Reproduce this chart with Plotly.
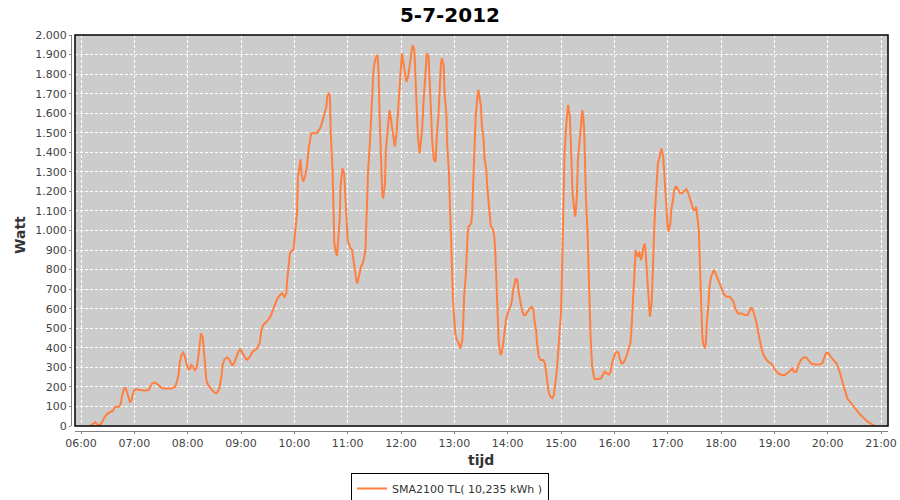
import plotly.graph_objects as go

datum = "2012-07-05"
titel = "5-7-2012"
serie_naam = "SMA2100 TL( 10,235 kWh )"

tijd = [
    "06:10", "06:14", "06:16", "06:18", "06:21", "06:23", "06:25", "06:27", "06:30", "06:33",
    "06:36", "06:38", "06:41", "06:43", "06:45", "06:46", "06:48", "06:50", "06:51", "06:53",
    "06:55", "06:57", "06:58", "07:00", "07:02", "07:06", "07:12", "07:16", "07:18", "07:20",
    "07:23", "07:26", "07:29", "07:32", "07:36", "07:42", "07:46", "07:48", "07:50", "07:51",
    "07:53", "07:55", "07:57", "07:59", "08:01", "08:03", "08:04", "08:06", "08:08", "08:10",
    "08:12", "08:14", "08:15", "08:17", "08:18", "08:20", "08:21", "08:23", "08:25", "08:27",
    "08:29", "08:32", "08:34", "08:36", "08:38", "08:39", "08:41", "08:44", "08:46", "08:48",
    "08:50", "08:51", "08:53", "08:55", "08:57", "08:59", "09:01", "09:03", "09:05", "09:07",
    "09:10", "09:13", "09:16", "09:18", "09:21", "09:23", "09:25", "09:29", "09:33", "09:35",
    "09:38", "09:41", "09:44", "09:46", "09:49", "09:51", "09:52", "09:54", "09:55", "09:57",
    "09:59", "10:00", "10:01", "10:03", "10:04", "10:06", "10:07", "10:08", "10:10", "10:12",
    "10:14", "10:16", "10:18", "10:19", "10:25", "10:29", "10:31", "10:33", "10:36", "10:37",
    "10:39", "10:40", "10:41", "10:43", "10:44", "10:45", "10:47", "10:48", "10:49", "10:51",
    "10:52", "10:54", "10:56", "10:57", "10:59", "11:00", "11:03", "11:05", "11:06", "11:08",
    "11:10", "11:11", "11:13", "11:15", "11:17", "11:18", "11:20", "11:21", "11:23", "11:25",
    "11:27", "11:29", "11:31", "11:33", "11:34", "11:35", "11:36", "11:38", "11:39", "11:40",
    "11:42", "11:43", "11:45", "11:47", "11:48", "11:50", "11:52", "11:53", "11:55", "11:57",
    "11:58", "12:00", "12:01", "12:03", "12:05", "12:06", "12:08", "12:10", "12:12", "12:13",
    "12:15", "12:16", "12:18", "12:19", "12:21", "12:22", "12:24", "12:25", "12:27", "12:29",
    "12:31", "12:33", "12:34", "12:35", "12:37", "12:39", "12:40", "12:42", "12:43", "12:45",
    "12:46", "12:48", "12:49", "12:51", "12:52", "12:54", "12:55", "12:56", "12:57", "12:58",
    "12:59", "13:00", "13:01", "13:03", "13:05", "13:07", "13:09", "13:10", "13:11", "13:13",
    "13:14", "13:15", "13:16", "13:19", "13:20", "13:21", "13:22", "13:23", "13:24", "13:26",
    "13:27", "13:28", "13:30", "13:31", "13:33", "13:34", "13:36", "13:37", "13:39", "13:40",
    "13:41", "13:43", "13:45", "13:46", "13:47", "13:48", "13:49", "13:50", "13:52", "13:53",
    "13:55", "13:56", "13:58", "14:00", "14:01", "14:03", "14:05", "14:06", "14:08", "14:09",
    "14:11", "14:12", "14:14", "14:16", "14:18", "14:20", "14:21", "14:23", "14:25", "14:27",
    "14:29", "14:30", "14:32", "14:33", "14:35", "14:37", "14:40", "14:42", "14:43", "14:45",
    "14:46", "14:48", "14:50", "14:52", "14:53", "14:55", "14:57", "14:58", "15:00", "15:01",
    "15:02", "15:03", "15:04", "15:06", "15:07", "15:08", "15:10", "15:11", "15:12", "15:13",
    "15:15", "15:16", "15:17", "15:18", "15:19", "15:21", "15:23", "15:24", "15:25", "15:26",
    "15:27", "15:28", "15:30", "15:31", "15:32", "15:33", "15:34", "15:35", "15:37", "15:38",
    "15:42", "15:45", "15:47", "15:49", "15:51", "15:54", "15:56", "15:57", "15:59", "16:01",
    "16:03", "16:05", "16:06", "16:08", "16:10", "16:12", "16:14", "16:16", "16:18", "16:19",
    "16:20", "16:21", "16:22", "16:23", "16:24", "16:25", "16:27", "16:28", "16:29", "16:30",
    "16:31", "16:32", "16:34", "16:35", "16:36", "16:37", "16:38", "16:39", "16:40", "16:42",
    "16:43", "16:44", "16:45", "16:46", "16:47", "16:48", "16:49", "16:51", "16:52", "16:53",
    "16:54", "16:55", "16:56", "16:57", "16:59", "17:00", "17:01", "17:03", "17:04", "17:06",
    "17:07", "17:09", "17:10", "17:12", "17:14", "17:16", "17:18", "17:20", "17:21", "17:23",
    "17:25", "17:27", "17:29", "17:31", "17:32", "17:33", "17:35", "17:36", "17:37", "17:38",
    "17:39", "17:40", "17:42", "17:43", "17:44", "17:46", "17:47", "17:49", "17:51", "17:52",
    "17:54", "17:56", "17:58", "18:00", "18:02", "18:04", "18:06", "18:10", "18:14", "18:16",
    "18:19", "18:23", "18:27", "18:30", "18:32", "18:34", "18:36", "18:38", "18:40", "18:42",
    "18:44", "18:46", "18:48", "18:50", "18:53", "18:56", "18:59", "19:01", "19:04", "19:08",
    "19:12", "19:15", "19:18", "19:20", "19:22", "19:25", "19:27", "19:30", "19:33", "19:36",
    "19:38", "19:41", "19:44", "19:48", "19:51", "19:54", "19:56", "19:58", "20:00", "20:02",
    "20:04", "20:07", "20:10", "20:12", "20:14", "20:16", "20:18", "20:20", "20:22", "20:25",
    "20:28", "20:31", "20:33", "20:36", "20:39", "20:42", "20:45", "20:48", "20:51", "20:53",
]

watt = [
    0, 14, 19, 10, 3, 14, 31, 48, 65, 73,
    78, 96, 99, 99, 116, 150, 184, 198, 184, 150,
    124, 133, 159, 184, 189, 184, 181, 184, 201, 218,
    222, 215, 201, 192, 192, 192, 201, 227, 270, 321,
    363, 375, 355, 312, 290, 295, 312, 304, 286, 295,
    355, 440, 474, 454, 389, 286, 235, 210, 201, 188,
    175, 167, 175, 201, 252, 304, 338, 351, 346, 329,
    312, 312, 329, 355, 380, 392, 380, 363, 346, 338,
    355, 380, 389, 397, 423, 491, 517, 534, 559, 585,
    619, 653, 670, 679, 661, 679, 747, 832, 883, 897,
    900, 951, 1003, 1088, 1275, 1344, 1364, 1292, 1250, 1275,
    1318, 1412, 1480, 1497, 1497, 1523, 1548, 1582, 1633, 1684,
    1705, 1684, 1497, 1309, 1139, 934, 883, 870, 934, 1054,
    1224, 1318, 1292, 1207, 1105, 951, 909, 900, 866, 798,
    738, 730, 772, 815, 832, 849, 900, 1062, 1309, 1446,
    1642, 1821, 1872, 1898, 1881, 1770, 1565, 1292, 1182, 1164,
    1241, 1412, 1531, 1616, 1591, 1514, 1463, 1429, 1497, 1633,
    1753, 1872, 1906, 1850, 1778, 1761, 1787, 1855, 1923, 1949,
    1923, 1821, 1599, 1480, 1395, 1437, 1531, 1633, 1804, 1906,
    1889, 1719, 1582, 1463, 1361, 1352, 1463, 1582, 1684, 1855,
    1881, 1847, 1702, 1599, 1437, 1292, 1139, 968, 832, 713,
    610, 525, 474, 440, 423, 397, 440, 525, 661, 781,
    900, 986, 1020, 1037, 1088, 1190, 1344, 1463, 1582, 1684,
    1719, 1693, 1633, 1531, 1463, 1369, 1309, 1224, 1139, 1071,
    1020, 1011, 968, 900, 798, 661, 525, 423, 363, 372,
    423, 474, 542, 576, 585, 610, 644, 695, 730, 755,
    747, 695, 644, 593, 568, 568, 576, 593, 602, 610,
    593, 542, 491, 423, 354, 338, 338, 321, 278, 218,
    175, 150, 142, 159, 193, 270, 389, 474, 576, 764,
    1003, 1258, 1400, 1548, 1616, 1642, 1582, 1429, 1292, 1190,
    1105, 1071, 1122, 1190, 1361, 1463, 1548, 1616, 1582, 1514,
    1361, 1173, 968, 781, 628, 491, 389, 304, 252, 240,
    240, 244, 261, 278, 270, 264, 278, 312, 346, 372,
    380, 372, 346, 321, 321, 338, 363, 389, 423, 474,
    559, 679, 764, 849, 900, 883, 866, 892, 866, 849,
    866, 900, 934, 900, 832, 764, 661, 576, 559, 628,
    798, 917, 1020, 1122, 1224, 1292, 1344, 1378, 1403, 1420,
    1395, 1378, 1309, 1207, 1088, 1020, 994, 1037, 1105, 1156,
    1199, 1224, 1224, 1207, 1190, 1190, 1199, 1211, 1211, 1193,
    1164, 1130, 1105, 1105, 1122, 1088, 1003, 866, 695, 559,
    457, 423, 397, 431, 525, 628, 713, 764, 794, 798,
    781, 755, 730, 713, 687, 670, 661, 661, 636, 602,
    576, 576, 568, 568, 585, 607, 593, 559, 525, 474,
    423, 389, 363, 346, 329, 321, 304, 286, 270, 261,
    261, 270, 283, 295, 278, 278, 312, 338, 351, 351,
    338, 321, 315, 315, 315, 321, 346, 372, 375, 363,
    346, 334, 321, 300, 270, 235, 201, 167, 142, 124,
    107, 90, 73, 61, 48, 34, 22, 14, 7, 0,
]

x_bereik = [datum + " 05:53:15", datum + " 21:07:52"]
y_bereik = [0, 2000]

x = [datum + " " + t for t in tijd]

fig = go.Figure()
fig.add_trace(go.Scatter(
    x=x, y=watt, mode="lines", name=serie_naam,
    line=dict(color="#ff7f3f", width=2),
    showlegend=True,
))

# the page body margin is removed (see post_script), so the figure fills the window
W, H = 900, 500
axis_left, axis_bottom, plot_top, plot_right = 71, 431, 35, 888
ml = axis_left
mt = plot_top
mr = W - plot_right
mb = H - axis_bottom
pw = W - ml - mr
ph = H - mt - mb

tickfont = dict(family="DejaVu Sans", size=11, color="#444444")

def px_y(y_ref):
    return (axis_bottom - y_ref) / ph

def px_x(x_ref):
    return (x_ref - axis_left) / pw

fig.update_layout(
    width=W, height=H,
    margin=dict(l=ml, r=mr, t=mt, b=mb, pad=0, autoexpand=False),
    paper_bgcolor="white",
    plot_bgcolor="#cccccc",
    separators=",.",
    title=dict(text="<b>" + titel + "</b>", x=0.5, xref="container", xanchor="center",
               y=1 - 15 / H, yref="container", yanchor="middle",
               font=dict(family="DejaVu Sans", size=20, color="black")),
    xaxis=dict(
        type="date", range=x_bereik, domain=[4 / pw, 1], anchor="free", position=0,
        showline=True, linecolor="#808080", linewidth=1,
        ticks="outside", ticklen=2, tickcolor="#808080", tickwidth=1,
        showgrid=True, gridcolor="white", gridwidth=1, griddash="3px,2px",
        tickformat="%H:%M", dtick=3600000, tick0=datum + " 06:00",
        tickfont=tickfont, zeroline=False, fixedrange=True, automargin=False,
    ),
    yaxis=dict(
        range=y_bereik, domain=[5 / ph, 1], anchor="free", position=0,
        showline=True, linecolor="#808080", linewidth=1,
        ticks="outside", ticklen=2, tickcolor="#808080", tickwidth=1,
        showgrid=True, gridcolor="white", gridwidth=1, griddash="3px,2px",
        dtick=100, tick0=0, tickformat=",d",
        tickfont=tickfont, zeroline=False, fixedrange=True, automargin=False,
    ),
    legend=dict(
        orientation="h", x=px_x(450), xanchor="center",
        y=px_y(473), yanchor="top",
        bordercolor="black", borderwidth=1, bgcolor="white",
        font=dict(family="DejaVu Sans", size=11, color="#333333"),
    ),
    annotations=[
        dict(text="<b>Watt</b>", xref="paper", yref="paper",
             x=px_x(20), y=px_y(235), textangle=-90,
             showarrow=False, xanchor="center", yanchor="middle",
             font=dict(family="DejaVu Sans", size=14, color="#333333")),
        dict(text="<b>tijd</b>", xref="paper", yref="paper",
             x=px_x(481), y=px_y(460),
             showarrow=False, xanchor="center", yanchor="middle",
             font=dict(family="DejaVu Sans", size=14, color="#333333")),
    ],
    shapes=[
        dict(type="rect", xref="x domain", yref="y domain", x0=0, x1=1, y0=0, y1=1,
             line=dict(color="black", width=1.5), fillcolor="rgba(0,0,0,0)", layer="above"),
    ],
)

fig.write_html("out.html", config={"displayModeBar": False},
               post_script="document.body.style.margin='0px';")
